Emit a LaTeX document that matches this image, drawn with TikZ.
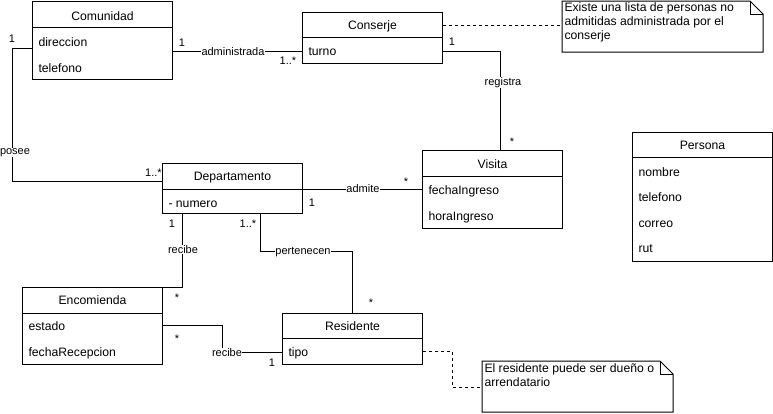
\documentclass[tikz,border=0pt]{standalone}
\usepackage{fontspec}
\setmainfont{Liberation Sans}
\usetikzlibrary{calc}
\begin{document}
\begin{tikzpicture}[x=1pt,y=-1pt,line width=1pt,
  txt/.style={font=\fontsize{11}{14}\selectfont, inner sep=0pt},
  bigtxt/.style={font=\fontsize{12.2}{14}\selectfont, inner sep=0pt},
  classbox/.style={draw, anchor=north west, inner sep=0pt, minimum width=140pt},
  title/.style={bigtxt, anchor=base},
  attr/.style={bigtxt, anchor=base west},
  lbl/.style={txt, anchor=base, fill=white, inner xsep=0.5pt, inner ysep=0.5pt},
  mult/.style={txt, anchor=base},
  assoc/.style={draw, line width=1pt},
  noteline/.style={draw, line width=1pt, dash pattern=on 3pt off 3pt},
  notebox/.style={anchor=north west, inner sep=0pt},
  % multi-line text: the base anchor sits on the last line
  notetext/.style={bigtxt, anchor=base west, align=left},
]
\useasboundingbox (0,0) rectangle (773,413);

% ---------- classes ----------
% Comunidad
\node[classbox, minimum height=78pt] (com) at (32,1) {};
\draw ($(com.north west)+(0,26)$) -- ($(com.north east)+(0,26)$);
\node[title] (comT) at ($(com.north)+(0,19.5)$) {Comunidad};
\node[attr] (comA1) at (38,46) {direccion};
\node[attr] (comA2) at (38,72) {telefono};

% Conserje
\node[classbox, minimum height=51pt] (con) at (302,12) {};
\draw ($(con.north west)+(0,25.5)$) -- ($(con.north east)+(0,25.5)$);
\node[title] (conT) at ($(con.north)+(0,17.5)$) {Conserje};
\node[attr] (conA1) at (308,55) {turno};

% Visita
\node[classbox, minimum height=78pt] (vis) at (422,150) {};
\draw ($(vis.north west)+(0,26)$) -- ($(vis.north east)+(0,26)$);
\node[title] (visT) at ($(vis.north)+(0,18)$) {Visita};
\node[attr] (visA1) at (428,194) {fechaIngreso};
\node[attr] (visA2) at (428,220) {horaIngreso};

% Persona
\node[classbox, minimum height=129pt] (per) at (632,132) {};
\draw ($(per.north west)+(0,25)$) -- ($(per.north east)+(0,25)$);
\node[title] (perT) at ($(per.north)+(0,17)$) {Persona};
\node[attr] (perA1) at (638,176) {nombre};
\node[attr] (perA2) at (638,201.5) {telefono};
\node[attr] (perA3) at (638,227) {correo};
\node[attr] (perA4) at (638,252) {rut};

% Departamento
\node[classbox, minimum height=50pt] (dep) at (162,163) {};
\draw ($(dep.north west)+(0,26)$) -- ($(dep.north east)+(0,26)$);
\node[title] (depT) at ($(dep.north)+(0,17.5)$) {Departamento};
\node[attr] (depA1) at (168,207) {- numero};

% Encomienda
\node[classbox, minimum height=77pt] (enc) at (22,287) {};
\draw ($(enc.north west)+(0,26)$) -- ($(enc.north east)+(0,26)$);
\node[title] (encT) at ($(enc.north)+(0,17.5)$) {Encomienda};
\node[attr] (encA1) at (28,330) {estado};
\node[attr] (encA2) at (28,356) {fechaRecepcion};

% Residente
\node[classbox, minimum height=51pt] (res) at (282,313) {};
\draw ($(res.north west)+(0,25)$) -- ($(res.north east)+(0,25)$);
\node[title] (resT) at ($(res.north)+(0,17.5)$) {Residente};
\node[attr] (resA1) at (288,356) {tipo};

% ---------- notes ----------
\node[notebox, minimum width=200pt, minimum height=50pt] (n1) at (562,1) {};
\draw (n1.north west) -- ($(n1.north east)+(-13,0)$) -- ($(n1.north east)+(0,13)$)
      -- (n1.south east) -- (n1.south west) -- cycle;
\draw ($(n1.north east)+(-13,0)$) -- ++(0,13) -- ($(n1.north east)+(0,13)$);
\node[notetext] (n1t) at (564,39) {Existe una lista de personas no\\admitidas administrada por el\\conserje};

\node[notebox, minimum width=190pt, minimum height=50pt] (n2) at (482,361) {};
\draw (n2.north west) -- ($(n2.north east)+(-13,0)$) -- ($(n2.north east)+(0,13)$)
      -- (n2.south east) -- (n2.south west) -- cycle;
\draw ($(n2.north east)+(-13,0)$) -- ++(0,13) -- ($(n2.north east)+(0,13)$);
\node[notetext] (n2t) at (484,386) {El residente puede ser dueño o\\arrendatario};

% ---------- associations ----------
\draw[assoc] (com.east |- 0,51.5) -- (con.west |- 0,51.5);
\draw[assoc] (com.west |- 0,48.5) -| (12,181) -- (dep.west |- 0,181);
\draw[assoc] (con.east |- 0,51) -| (vis.north -| 500,0);
\draw[assoc] (dep.east |- 0,189) -- (vis.west |- 0,189);
\draw[assoc] (dep.south -| 182,0) |- (enc.north east);
\draw[assoc] (dep.south -| 260,0) -- (260,251) -| (res.north -| 352,0);
\draw[assoc] (enc.east |- 0,325) -| (222,352) -- (res.west |- 0,352);

% note anchors
\draw[noteline] (con.east |- 0,25) -- (n1.west |- 0,25);
\draw[noteline] (res.east |- 0,351) -| (452,387) -- (n2.west |- 0,387);

% association names
\node[lbl] (l1) at (233,55) {administrada};
\node[lbl] (l2) at (15,154) {posee};
\node[lbl] (l3) at (503,85) {registra};
\node[lbl] (l4) at (363,192.5) {admite};
\node[lbl] (l5) at (183,253) {recibe};
\node[lbl] (l6) at (303,254.5) {pertenecen};
\node[lbl] (l7) at (227,356.5) {recibe};

% multiplicities
\node[mult] (m1) at (182,46) {1};
\node[mult] (m2) at (288,64) {1..*};
\node[mult] (m3) at (12,42) {1};
\node[mult] (m4) at (153.5,176.7) {1..*};
\node[mult] (m5) at (452,45) {1};
\node[mult] (m6) at (512,145.2) {*};
\node[mult] (m7) at (312,206) {1};
\node[mult] (m8) at (406,185.2) {*};
\node[mult] (m9) at (172,227.7) {1};
\node[mult] (m10) at (177,301.2) {*};
\node[mult] (m11) at (248,227.7) {1..*};
\node[mult] (m12) at (371,306.2) {*};
\node[mult] (m13) at (177,342.5) {*};
\node[mult] (m14) at (272,366) {1};
\end{tikzpicture}
\end{document}
